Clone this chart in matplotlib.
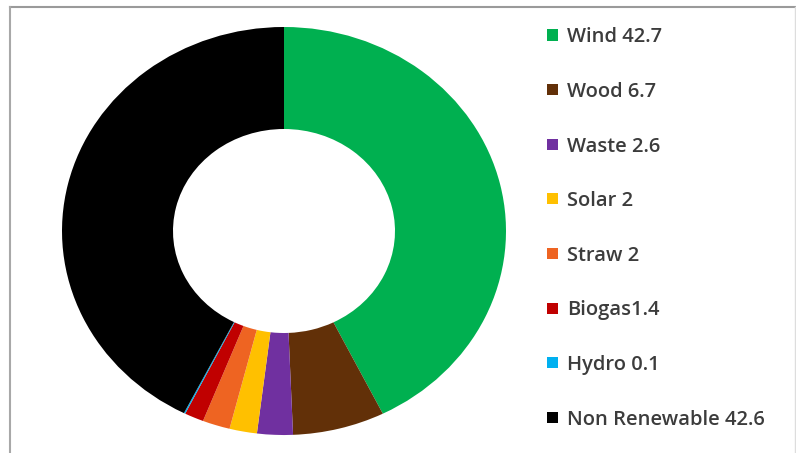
import matplotlib
matplotlib.use("Agg")
import matplotlib.pyplot as plt
from matplotlib.lines import Line2D
from matplotlib.patches import Rectangle

# Energy mix shares (%)
sources = ["Wind", "Wood", "Waste", "Solar", "Straw", "Biogas", "Hydro", "Non Renewable"]
shares = [42.7, 6.7, 2.6, 2, 2, 1.4, 0.1, 42.6]
labels = ["Wind 42.7", "Wood 6.7", "Waste 2.6", "Solar 2", "Straw 2",
          "Biogas1.4", "Hydro 0.1", "Non Renewable 42.6"]
colors = ["#00B050", "#623008", "#7030A0", "#FFC000", "#EE6422",
          "#C00000", "#00B0F0", "#000000"]

W, H = 796, 453
fig = plt.figure(figsize=(W / 100, H / 100), dpi=100)
fig.patch.set_facecolor("white")

# Donut area (pixel box), slightly wider than tall
cx, cy, rx, ry = 284, 231, 222, 204
ax = fig.add_axes([(cx - rx) / W, (H - cy - ry) / H, 2 * rx / W, 2 * ry / H])
ax.pie(shares, colors=colors, startangle=90, counterclock=False,
       wedgeprops=dict(width=0.5, linewidth=0), radius=1)
ax.set_aspect("auto")
ax.set_xlim(-1, 1)
ax.set_ylim(-1, 1)
ax.axis("off")

# Legend column
x_box, box = 547, 11
x_text = 567
y0, step = 35, 54.6
for i, (lab, col) in enumerate(zip(labels, colors)):
    yc = y0 + i * step
    fig.patches.append(Rectangle(((x_box) / W, (H - yc - box / 2) / H), box / W, box / H,
                                 transform=fig.transFigure, facecolor=col,
                                 edgecolor="none"))
    fig.text(x_text / W, (H - yc) / H, lab, ha="left", va="center_baseline",
             fontsize=14.5, fontweight=600, family="Open Sans", color="#3c3c3c")

# Frame lines around the chart area
fig.add_artist(Line2D([9.5 / W, 1], [1 - 7 / H, 1 - 7 / H], transform=fig.transFigure,
                      color="#9a9a9a", linewidth=1.5))
fig.add_artist(Line2D([9.5 / W, 9.5 / W], [0, 1 - 7 / H], transform=fig.transFigure,
                      color="#a8a8a8", linewidth=1.5))
fig.add_artist(Line2D([795 / W, 795 / W], [0, 1 - 7 / H], transform=fig.transFigure,
                      color="#dddddd", linewidth=1))

fig.savefig("out.png", dpi=100, facecolor="white")
